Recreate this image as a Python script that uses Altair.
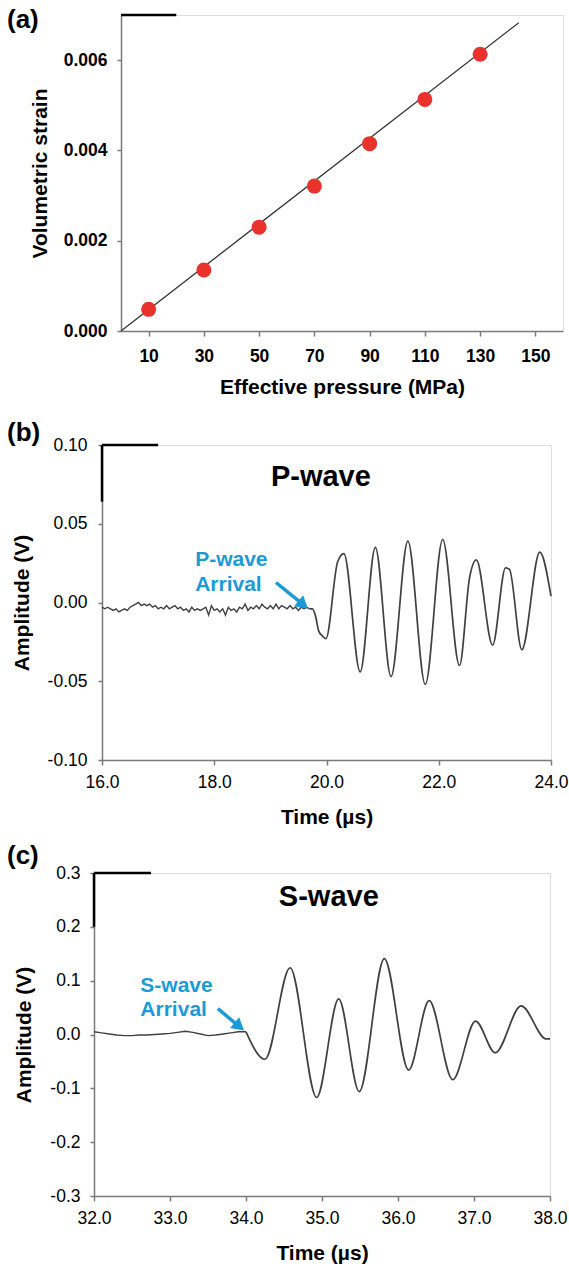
import altair as alt
import pandas as pd

FONT = "Liberation Sans"
GRAY = "#7a7a7a"
TRACE = "#404040"
BLUE = "#1A9BD7"
RED = "#E8322B"

# ---------------- panel (a) data ----------------
a_pressure = [10, 30, 50, 70, 90, 110, 130]
a_strain = [0.00048, 0.00135, 0.00230, 0.00321, 0.00415, 0.00513, 0.00613]
a_fit_p = [0, 144]
a_fit_s = [0.0, 0.00683]
a_xticks = [10, 30, 50, 70, 90, 110, 130, 150]
a_yticks = [0.0, 0.002, 0.004, 0.006]
a_xdom = [0, 160]
a_ydom = [0, 0.007]
a_bar_x = [0, 20]
a_bar_y = [0.007]

# ---------------- panel (b) data ----------------
p_noise_t = [16.00, 16.05, 16.10, 16.15, 16.20, 16.25, 16.30, 16.35, 16.40, 16.45,
             16.50, 16.55, 16.60, 16.65, 16.70, 16.75, 16.80, 16.85, 16.90, 16.95,
             17.00, 17.05, 17.10, 17.15, 17.20, 17.25, 17.30, 17.35, 17.40, 17.45,
             17.50, 17.55, 17.60, 17.65, 17.70, 17.75, 17.80, 17.85, 17.90, 17.95,
             18.00, 18.05, 18.10, 18.15, 18.20, 18.25, 18.30, 18.35, 18.40, 18.45,
             18.50, 18.55, 18.60, 18.65, 18.70, 18.75, 18.80, 18.85, 18.90, 18.95,
             19.00, 19.05, 19.10, 19.15, 19.20, 19.25, 19.30, 19.35, 19.40, 19.45,
             19.50, 19.55, 19.60, 19.65, 19.70]
p_noise_v = [-0.003, -0.004, -0.003, -0.004, -0.005, -0.004, -0.006, -0.005, -0.004, -0.005,
             -0.003, -0.002, -0.001, 0.000, -0.002, -0.001, -0.002, -0.001, -0.003, -0.002,
             -0.004, -0.003, -0.004, -0.002, -0.004, -0.003, -0.002, -0.004, -0.003, -0.005,
             -0.004, -0.006, -0.003, -0.005, -0.004, -0.005, -0.004, -0.003, -0.008, -0.002,
             -0.005, -0.004, -0.006, -0.004, -0.008, -0.003, -0.005, -0.004, -0.006, -0.003,
             -0.004, -0.001, -0.005, -0.003, -0.004, -0.002, -0.004, -0.001, -0.003, -0.004,
             -0.002, -0.004, -0.001, -0.004, -0.002, -0.003, -0.004, -0.002, -0.004, -0.003,
             -0.005, -0.003, -0.004, -0.003, -0.004]
p_wave_t = [19.70, 19.75, 19.80, 19.86, 19.92, 19.99, 20.20, 20.31, 20.60, 20.87,
            21.15, 21.45, 21.76, 22.07, 22.37, 22.55, 22.67, 22.96, 23.19, 23.26,
            23.48, 23.80, 24.00]
p_wave_v = [-0.004, -0.004, -0.008, -0.018, -0.021, -0.023, 0.026, 0.031, -0.044, 0.035,
            -0.047, 0.039, -0.052, 0.040, -0.040, 0.016, 0.027, -0.027, 0.022, 0.021,
            -0.030, 0.032, 0.004]
b_xticks = [16, 18, 20, 22, 24]
b_yticks = [-0.10, -0.05, 0.0, 0.05, 0.10]
b_xdom = [16, 24]
b_ydom = [-0.1, 0.1]
b_title = ["P-wave"]
b_title_xy = [19.90, 0.080]
b_note = ["P-wave", "Arrival"]
b_note_x = [17.66, 17.66]
b_note_y = [0.0273, 0.0114]
b_arrow_tail = [19.10, 0.0127]
b_arrow_head = [19.586, -0.0014]
b_bar_top = [16, 17, 0.10]
b_bar_left = [16, 0.10, 0.064]

# ---------------- panel (c) data ----------------
s_noise_t = [32.0, 32.1, 32.2, 32.3, 32.4, 32.5, 32.6, 32.7, 32.8, 32.9,
             33.0, 33.1, 33.2, 33.3, 33.4, 33.5, 33.6, 33.7, 33.8, 33.9, 34.0]
s_noise_v = [0.005, 0.003, 0.001, -0.001, -0.002, -0.002, -0.001, -0.001, 0.000, 0.001,
             0.002, 0.004, 0.006, 0.004, 0.001, -0.002, -0.001, 0.001, 0.003, 0.005, 0.005]
s_wave_t = [34.00, 34.25, 34.58, 34.93, 35.22, 35.49, 35.82, 36.14, 36.41, 36.72,
            37.02, 37.28, 37.62, 37.95, 38.00]
s_wave_v = [0.005, -0.046, 0.124, -0.117, 0.066, -0.106, 0.141, -0.066, 0.063, -0.084,
            0.025, -0.034, 0.053, -0.008, -0.008]
c_xticks = [32, 33, 34, 35, 36, 37, 38]
c_yticks = [-0.3, -0.2, -0.1, 0.0, 0.1, 0.2, 0.3]
c_xdom = [32, 38]
c_ydom = [-0.3, 0.3]
c_title = ["S-wave"]
c_title_xy = [35.09, 0.255]
c_note = ["S-wave", "Arrival"]
c_note_x = [32.61, 32.61]
c_note_y = [0.091, 0.046]
c_arrow_tail = [33.63, 0.048]
c_arrow_head = [33.912, 0.0147]
c_bar_top = [32, 32.75, 0.3]
c_bar_left = [32, 0.3, 0.2]

MINUS_FIX = "replace(datum.label, '\u2212', '-')"


def axis(values, fmt, title, bold, tick, lpad, tpad, fix=False):
    kw = dict(values=values, format=fmt, title=title, tickSize=tick, labelPadding=lpad,
              titlePadding=tpad, labelFontSize=17.5,
              labelFontWeight="bold" if bold else "normal",
              titleFontSize=21, titleFontWeight="bold", grid=False,
              domainColor=GRAY, tickColor=GRAY, domainWidth=1.5, tickWidth=1.5,
              labelColor="black", titleColor="black", labelFont=FONT, titleFont=FONT,
              labelFlush=False, labelOverlap=False)
    if fix:
        kw["labelExpr"] = MINUS_FIX
    return alt.Axis(**kw)


def panel_label(text, dx, dy):
    return alt.Chart(pd.DataFrame({"t": [text]})).mark_text(
        font=FONT, fontSize=26, fontWeight="bold", align="left", baseline="middle", color="black"
    ).encode(text="t:N", x=alt.value(dx), y=alt.value(dy))


def spacer(dy):
    return alt.Chart(pd.DataFrame({"t": [0]})).mark_rule(strokeOpacity=0, strokeWidth=1).encode(
        x=alt.value(0), x2=alt.value(1), y=alt.value(dy))


def left_stub():
    # invisible 1px cell placed before each panel so that every row starts at the same x
    return alt.Chart(pd.DataFrame({"t": [0]})).mark_rule(strokeOpacity=0, strokeWidth=1).encode(
        x=alt.value(0), x2=alt.value(1), y=alt.value(0)
    ).properties(width=1, height=1, view=alt.ViewBackground(strokeOpacity=0))


# ================= panel (a) =================
A_W, A_H = 442, 316
ax_a = alt.X("x:Q", scale=alt.Scale(domain=a_xdom, nice=False, zero=False),
             axis=axis(a_xticks, "d", "Effective pressure (MPa)", True, 5, 11, 12))
ay_a = alt.Y("y:Q", scale=alt.Scale(domain=a_ydom, nice=False, zero=False),
             axis=axis(a_yticks, ".3f", "Volumetric strain", True, 4, 10, 13))

a_pts = pd.DataFrame({"x": a_pressure, "y": a_strain})
a_fit = pd.DataFrame({"x": a_fit_p, "y": a_fit_s})
a_bar = pd.DataFrame({"x": [a_bar_x[0]], "x2": [a_bar_x[1]], "y": a_bar_y})

a_line = alt.Chart(a_fit).mark_line(color="#333333", strokeWidth=1.3).encode(x=ax_a, y=ay_a)
a_dots = alt.Chart(a_pts).mark_circle(size=225, color=RED, opacity=1).encode(x=ax_a, y=ay_a)
a_topbar = alt.Chart(a_bar).mark_rule(color="black", strokeWidth=2.5).encode(x=ax_a, x2="x2:Q", y=ay_a)

panel_a = alt.layer(a_line, a_dots, a_topbar, panel_label("(a)", -114, 5), spacer(403)).properties(
    width=A_W, height=A_H)


# ================= waveform panel builder =================
def wave_panel(W, H, xdom, ydom, xticks, yticks, xfmt, yfmt, noise_t, noise_v, wave_t, wave_v,
               title, title_xy, note, note_x, note_y, tail, head, bar_top, bar_left,
               label, ldx, ldy, spacer_dy, xlp, xtp, ylp, ytp):
    ex = alt.X("x:Q", scale=alt.Scale(domain=xdom, nice=False, zero=False),
               axis=axis(xticks, xfmt, "Time (\u00b5s)", False, 5, xlp, xtp, True))
    ey = alt.Y("y:Q", scale=alt.Scale(domain=ydom, nice=False, zero=False),
               axis=axis(yticks, yfmt, "Amplitude (V)", False, 4, ylp, ytp, True))
    noise = alt.Chart(pd.DataFrame({"x": noise_t, "y": noise_v})).mark_line(
        color=TRACE, strokeWidth=1.4).encode(x=ex, y=ey)
    wave = alt.Chart(pd.DataFrame({"x": wave_t, "y": wave_v})).mark_line(
        color=TRACE, strokeWidth=1.7, interpolate="monotone").encode(x=ex, y=ey)
    ttl = alt.Chart(pd.DataFrame({"x": [title_xy[0]], "y": [title_xy[1]], "t": title})).mark_text(
        font=FONT, fontSize=29, fontWeight="bold", color="black", baseline="middle").encode(
        x=ex, y=ey, text="t:N")
    notes = alt.Chart(pd.DataFrame({"x": note_x, "y": note_y, "t": note})).mark_text(
        font=FONT, fontSize=21, fontWeight="bold", color=BLUE, align="left", baseline="middle").encode(
        x=ex, y=ey, text="t:N")
    arr = alt.Chart(pd.DataFrame({"x": [tail[0]], "y": [tail[1]], "x2": [head[0]], "y2": [head[1]]})).mark_rule(
        color=BLUE, strokeWidth=3.5).encode(x=ex, y=ey, x2="x2:Q", y2="y2:Q")
    tip = alt.Chart(pd.DataFrame({"x": [head[0]], "y": [head[1]]})).mark_point(
        shape="triangle-up", filled=True, size=200, color=BLUE, opacity=1, angle=130).encode(x=ex, y=ey)
    bt = alt.Chart(pd.DataFrame({"x": [bar_top[0]], "x2": [bar_top[1]], "y": [bar_top[2]]})).mark_rule(
        color="black", strokeWidth=2.5).encode(x=ex, x2="x2:Q", y=ey)
    bl = alt.Chart(pd.DataFrame({"x": [bar_left[0]], "y": [bar_left[1]], "y2": [bar_left[2]]})).mark_rule(
        color="black", strokeWidth=2.5).encode(x=ex, y=ey, y2="y2:Q")
    layers = [noise, wave, bt, bl, ttl, notes, arr, tip, panel_label(label, ldx, ldy)]
    if spacer_dy is not None:
        layers.append(spacer(spacer_dy))
    return alt.layer(*layers).properties(width=W, height=H)


panel_b = wave_panel(449, 315, b_xdom, b_ydom, b_xticks, b_yticks, ".1f", ".2f",
                     p_noise_t, p_noise_v, p_wave_t, p_wave_v, b_title, b_title_xy,
                     b_note, b_note_x, b_note_y, b_arrow_tail, b_arrow_head, b_bar_top, b_bar_left,
                     "(b)", -95, -12, 396, 8, 16, 11, 15)

panel_c = wave_panel(456, 323, c_xdom, c_ydom, c_xticks, c_yticks, ".1f", ".1f",
                     s_noise_t, s_noise_v, s_wave_t, s_wave_v, c_title, c_title_xy,
                     c_note, c_note_x, c_note_y, c_arrow_tail, c_arrow_head, c_bar_top, c_bar_left,
                     "(c)", -87, -17, None, 8, 16, 10, 15)

chart = alt.concat(left_stub(), panel_a, left_stub(), panel_b, left_stub(), panel_c,
                   columns=2, spacing=0, align="none", bounds="full").properties(
    padding={"left": 5, "top": 6, "right": 0, "bottom": 2}
).configure_view(stroke=GRAY, strokeWidth=1.5).configure(background="white")

chart.save("out.html", embed_options={"renderer": "svg", "actions": False})
